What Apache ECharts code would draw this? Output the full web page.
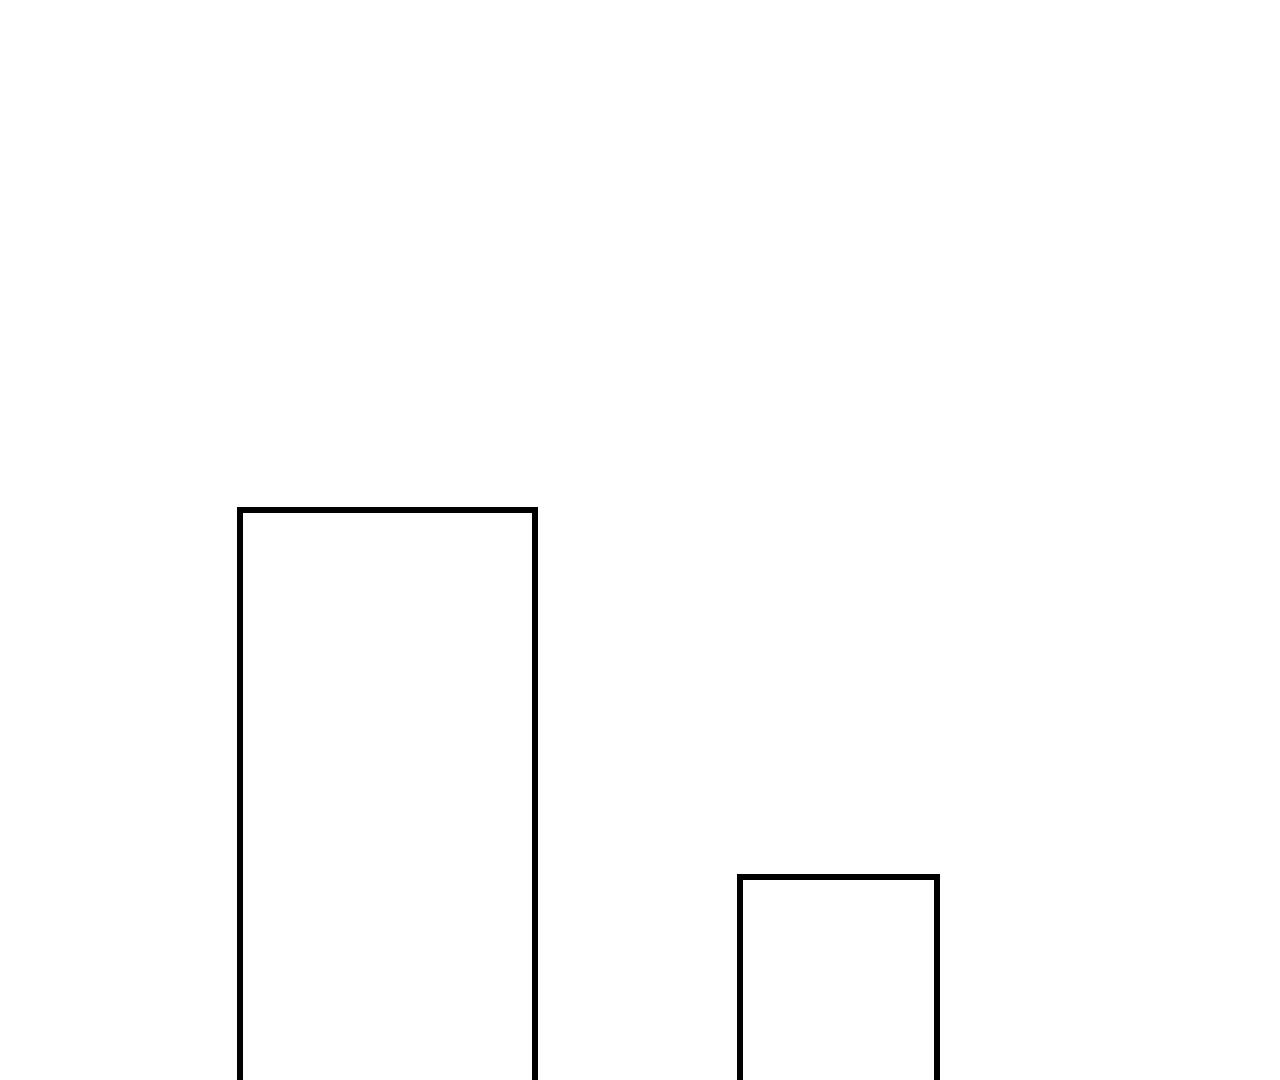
<!DOCTYPE html>
<html>
<head>
<meta charset="utf-8">
<script src="https://cdn.jsdelivr.net/npm/echarts@6/dist/echarts.min.js"></script>
<style>
html, body { margin: 0; padding: 0; background: #fff; }
#chart { width: 1280px; height: 1080px; }
</style>
</head>
<body>
<div id="chart"></div>
<script>
// bar edges (x start / x end) and heights
const barStart = [240, 740];
const barEnd = [535, 937];
const barHeight = [570, 203];

const barData = barStart.map((s, i) => [s, barEnd[i], barHeight[i]]);

const option = {
    animation: false,
    grid: { left: 0, right: 0, top: 0, bottom: 0 },
    xAxis: { type: 'value', min: 0, max: 1280, show: false },
    yAxis: { type: 'value', min: 0, max: 1080, show: false },
    series: [
        {
            type: 'custom',
            data: barData,
            renderItem: function (params, api) {
                const p0 = api.coord([api.value(0), api.value(2)]);
                const p1 = api.coord([api.value(1), -20]);
                return {
                    type: 'rect',
                    shape: { x: p0[0], y: p0[1], width: p1[0] - p0[0], height: p1[1] - p0[1] },
                    style: { fill: 'none', stroke: '#000', lineWidth: 6 }
                };
            }
        }
    ]
};

const chart = echarts.init(document.getElementById('chart'));
chart.setOption(option);
</script>
</body>
</html>
